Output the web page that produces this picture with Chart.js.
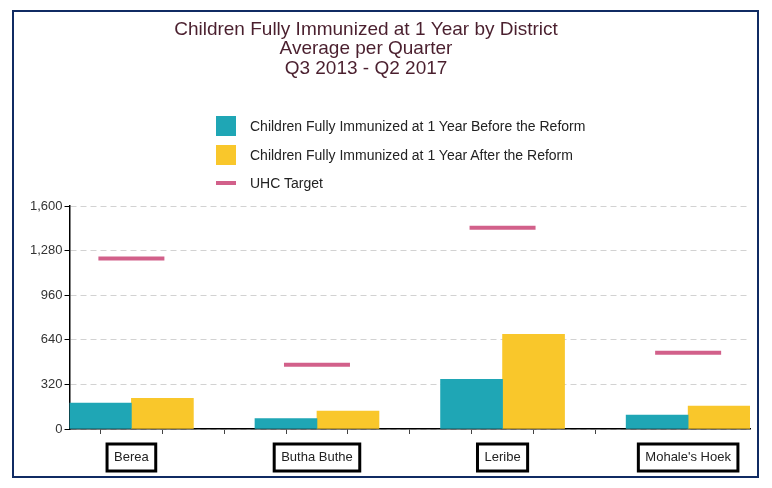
<!DOCTYPE html>
<html>
<head>
<meta charset="utf-8">
<script src="https://cdn.jsdelivr.net/npm/chart.js@4.4.1/dist/chart.umd.min.js"></script>
<style>
  body { margin: 0; background: #fff; font-family: 'Liberation Sans', Arial, sans-serif; }
  #frame { position: absolute; left: 12px; top: 10px; width: 743px; height: 464px; border: 2px solid #102b63; }
  #legend { position: absolute; left: 216px; top: 112px; margin: 0; padding: 0; list-style: none; font-size: 14px; color: #222; }
  #legend li { display: flex; align-items: center; height: 28.5px; }
  #legend .box { width: 20px; margin-right: 14px; }
</style>
</head>
<body>
<div id="frame"><canvas id="myChart"></canvas></div>
<ul id="legend"></ul>
<script>
// chart data
const districts = ['Berea', 'Butha Buthe', 'Leribe', "Mohale's Hoek"];
const beforeReform = [186, 74, 357, 100];
const afterReform = [221, 129, 679, 164];
const uhcTarget = [1224, 462, 1445, 548];
const yTicks = [0, 320, 640, 960, 1280, 1600];

// x range and the small tick marks under the x axis (bar centres and gaps)
const xMin = -1/3;
const xMax = 10/3;
const tickMarks = [-1/6, 1/6, 1/2, 5/6, 7/6, 3/2, 11/6, 13/6, 5/2];

const font = "'Liberation Sans', Arial, sans-serif";

// boxes round the district names
const labelBoxes = {
  id: 'labelBoxes',
  afterDraw(chart) {
    const scale = chart.scales.x;
    const ctx = chart.ctx;
    ctx.save();
    ctx.font = '13px ' + font;
    ctx.lineWidth = 3;
    ctx.strokeStyle = '#000';
    scale.ticks.forEach((t) => {
      if (!t.label) return;
      const x = scale.getPixelForValue(t.value);
      const w = ctx.measureText(t.label).width + 14;
      ctx.strokeRect(x - w / 2, scale.top + 15, w, 27);
    });
    ctx.restore();
  },
};

// title sits a bit left of the centre in the original
const shiftTitle = {
  id: 'shiftTitle',
  afterLayout(chart) {
    chart.titleBlock.left -= 46;
  },
};

// legend as a list, built from the chart's own legend items
const htmlLegend = {
  id: 'htmlLegend',
  afterUpdate(chart) {
    const ul = document.getElementById('legend');
    ul.innerHTML = '';
    const items = chart.options.plugins.legend.labels.generateLabels(chart);
    items.forEach((item) => {
      const li = document.createElement('li');
      const box = document.createElement('span');
      box.className = 'box';
      const isLine = chart.data.datasets[item.datasetIndex].type === 'scatter';
      box.style.height = isLine ? '4px' : '20px';
      box.style.background = isLine ? item.strokeStyle : item.fillStyle;
      const txt = document.createElement('span');
      txt.textContent = item.text;
      li.appendChild(box);
      li.appendChild(txt);
      ul.appendChild(li);
    });
  },
};

function renderChart() {
  const data = {
    datasets: [{
      label: 'Children Fully Immunized at 1 Year Before the Reform',
      data: beforeReform.map((v, i) => ({ x: i, y: v })),
      backgroundColor: '#1fa6b5',
    }, {
      label: 'Children Fully Immunized at 1 Year After the Reform',
      data: afterReform.map((v, i) => ({ x: i, y: v })),
      backgroundColor: '#f9c72b',
    }, {
      type: 'scatter',
      label: 'UHC Target',
      data: uhcTarget.map((v, i) => ({ x: i, y: v })),
      pointStyle: 'line',
      pointRadius: 33,
      pointHoverRadius: 33,
      pointBorderWidth: 4,
      pointHoverBorderWidth: 4,
      borderColor: '#d2608a',
      backgroundColor: '#d2608a',
      showLine: false,
    }],
  };

  const config = {
    type: 'bar',
    data: data,
    options: {
      responsive: true,
      maintainAspectRatio: false,
      animation: false,
      barThickness: 62,
      layout: {
        autoPadding: false,
        padding: { left: 14, right: 7, top: 0, bottom: 10 },
      },
      plugins: {
        legend: { display: false },
        tooltip: { enabled: false },
        title: {
          display: true,
          text: [
            'Children Fully Immunized at 1 Year by District',
            'Average per Quarter',
            'Q3 2013 - Q2 2017',
          ],
          color: '#4a1f2e',
          font: { family: font, size: 19, weight: 'normal', lineHeight: 1.03 },
          padding: { top: 7.5, bottom: 128 },
        },
      },
      scales: {
        x: {
          type: 'linear',
          offset: false,
          min: xMin,
          max: xMax,
          afterBuildTicks(scale) {
            // district positions, the tick marks, and both ends (unlabelled)
            const vals = districts.map((d, i) => i).concat(tickMarks, [xMin, xMax]);
            vals.sort((a, b) => a - b);
            scale.ticks = vals.map((v) => ({ value: v }));
          },
          afterFit(scale) {
            scale.height = 37;
            scale.paddingLeft = 0;
            scale.paddingRight = 0;
          },
          ticks: {
            autoSkip: false,
            maxRotation: 0,
            padding: 16,
            color: '#222',
            font: { family: font, size: 13 },
            callback: (value) => (Number.isInteger(value) ? districts[value] : ''),
          },
          grid: {
            offset: false,
            drawOnChartArea: false,
            tickLength: 5,
            tickColor: (c) => (c.tick && tickMarks.includes(c.tick.value) ? '#444' : 'rgba(0,0,0,0)'),
          },
          border: { display: true, color: '#000', width: 1.5 },
        },
        y: {
          min: 0,
          max: 1600,
          afterBuildTicks(scale) {
            scale.ticks = yTicks.map((v) => ({ value: v }));
          },
          ticks: {
            padding: 2,
            color: '#333',
            font: { family: font, size: 13 },
            callback: (value) => value.toLocaleString('en-US'),
          },
          grid: {
            color: '#d2d2d2',
            tickColor: '#000',
            tickLength: 5,
            tickBorderDash: [],
          },
          border: { display: true, color: '#000', width: 1.5, dash: [6, 4] },
        },
      },
    },
    plugins: [labelBoxes, shiftTitle, htmlLegend],
  };

  const myChart = new Chart(document.getElementById('myChart'), config);
}

renderChart();
</script>
</body>
</html>
